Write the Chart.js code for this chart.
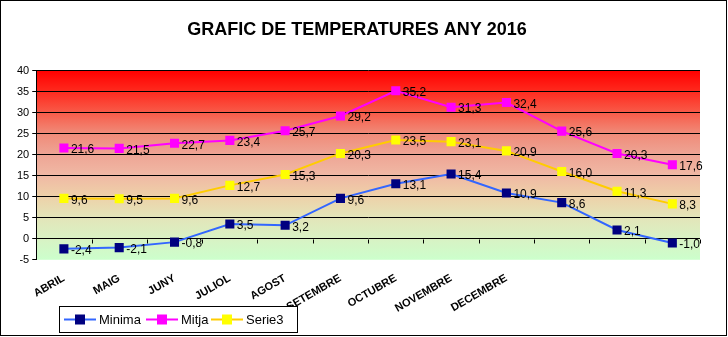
<!DOCTYPE html>
<html>
<head>
<meta charset="utf-8">
<script src="https://cdn.jsdelivr.net/npm/chart.js@4"></script>
<style>
  html, body { margin: 0; padding: 0; background: #fff; }
  #wrap { width: 728px; height: 337px; }
</style>
</head>
<body>
<div id="wrap"><canvas id="tempChart" width="728" height="337"></canvas></div>
<script>
// Monthly temperatures, 2016
const months = ['ABRIL', 'MAIG', 'JUNY', 'JULIOL', 'AGOST', 'SETEMBRE', 'OCTUBRE', 'NOVEMBRE', 'DECEMBRE', '', '', ''];
const minima = [-2.4, -2.1, -0.8, 3.5, 3.2, 9.6, 13.1, 15.4, 10.9, 8.6, 2.1, -1.0];
const mitja = [21.6, 21.5, 22.7, 23.4, 25.7, 29.2, 35.2, 31.3, 32.4, 25.6, 20.3, 17.6];
const serie3 = [9.6, 9.5, 9.6, 12.7, 15.3, 20.3, 23.5, 23.1, 20.9, 16.0, 11.3, 8.3];
const yTicks = [-5, 0, 5, 10, 15, 20, 25, 30, 35, 40];

const fmt = v => v.toFixed(1).replace('.', ',');

// warm-to-cool background behind the plot
const plotBackground = {
  id: 'plotBackground',
  beforeDraw(chart) {
    const { ctx, chartArea: a } = chart;
    const g = ctx.createLinearGradient(0, a.top, 0, a.bottom);
    g.addColorStop(0, '#ff0000');
    g.addColorStop(0.11, '#ff2a1e');
    g.addColorStop(0.22, '#f85a48');
    g.addColorStop(0.33, '#f08a78');
    g.addColorStop(0.44, '#eea494');
    g.addColorStop(0.55, '#f0b8a4');
    g.addColorStop(0.66, '#eed0a8');
    g.addColorStop(0.77, '#e4e4b8');
    g.addColorStop(0.89, '#d8f2c4');
    g.addColorStop(1, '#ccffcc');
    ctx.save();
    ctx.fillStyle = g;
    ctx.fillRect(a.left, a.top, a.right - a.left, a.bottom - a.top);
    ctx.restore();
  },
  afterDraw(chart) {
    const { ctx, width, height } = chart;
    ctx.save();
    ctx.strokeStyle = '#000';
    ctx.lineWidth = 1;
    ctx.strokeRect(0.5, 0.5, width - 2, height - 2);
    // small ticks on the zero line between categories
    const x = chart.scales.x, y = chart.scales.y;
    const y0 = Math.round(y.getPixelForValue(0)) + 0.5;
    ctx.beginPath();
    for (let i = 0; i <= months.length; i++) {
      const px = Math.round(x.getPixelForValue(i - 0.5)) + 0.5;
      ctx.moveTo(px, y0);
      ctx.lineTo(px, y0 + 4);
    }
    ctx.stroke();
    ctx.restore();
  }
};

// value labels to the right of each marker
const valueLabels = {
  id: 'valueLabels',
  afterDatasetsDraw(chart) {
    const ctx = chart.ctx;
    ctx.save();
    ctx.font = '12px "Liberation Sans", Arial, sans-serif';
    ctx.fillStyle = '#000';
    ctx.textAlign = 'left';
    ctx.textBaseline = 'middle';
    chart.data.datasets.forEach((ds, i) => {
      chart.getDatasetMeta(i).data.forEach((pt, j) => {
        ctx.fillText(fmt(ds.data[j]), pt.x + 7, pt.y + 2);
      });
    });
    ctx.restore();
  }
};

// boxed legend at the bottom left
const boxLegend = {
  id: 'boxLegend',
  afterDraw(chart) {
    const ctx = chart.ctx;
    const bx = 59.5, by = 306.5, bw = 238, bh = 26;
    ctx.save();
    ctx.fillStyle = '#fff';
    ctx.fillRect(bx, by, bw, bh);
    ctx.strokeStyle = '#000';
    ctx.lineWidth = 1;
    ctx.strokeRect(bx, by, bw, bh);
    ctx.font = '13px "Liberation Sans", Arial, sans-serif';
    ctx.textBaseline = 'middle';
    const starts = [64, 146, 211];
    const cy = by + bh / 2;
    chart.data.datasets.forEach((ds, i) => {
      const x0 = starts[i];
      ctx.strokeStyle = ds.borderColor;
      ctx.lineWidth = 2;
      ctx.beginPath();
      ctx.moveTo(x0, cy);
      ctx.lineTo(x0 + 32, cy);
      ctx.stroke();
      ctx.fillStyle = ds.pointBackgroundColor;
      ctx.fillRect(x0 + 11, cy - 5, 10, 10);
      ctx.fillStyle = '#000';
      ctx.fillText(ds.label, x0 + 35, cy + 1);
    });
    ctx.restore();
  }
};

const series = (label, data, line, marker) => ({
  label, data,
  borderColor: line,
  borderWidth: 2,
  pointStyle: 'rect',
  pointRadius: 5,
  pointBackgroundColor: marker,
  pointBorderColor: marker,
  tension: 0
});

new Chart(document.getElementById('tempChart'), {
  type: 'line',
  data: {
    labels: months,
    datasets: [
      series('Minima', minima, '#3366ff', '#000080'),
      series('Mitja', mitja, '#ff00ff', '#ff00ff'),
      series('Serie3', serie3, '#ffcc00', '#ffff00')
    ]
  },
  options: {
    responsive: false,
    animation: false,
    layout: { padding: { top: 0, right: 28, bottom: 18, left: 14 } },
    plugins: {
      legend: { display: false },
      tooltip: { enabled: false },
      title: {
        display: true,
        text: 'GRAFIC DE TEMPERATURES ANY 2016',
        color: '#000',
        font: { family: '"Liberation Sans", Arial, sans-serif', size: 18, weight: 'bold' },
        padding: { top: 19, bottom: 30 }
      }
    },
    scales: {
      x: {
        offset: true,
        border: { display: false },
        grid: { display: false },
        ticks: {
          autoSkip: false,
          maxRotation: 30,
          minRotation: 30,
          color: '#000',
          padding: 4,
          font: { family: '"Liberation Sans", Arial, sans-serif', size: 11, weight: 'bold' }
        }
      },
      y: {
        min: -5,
        max: 40,
        afterBuildTicks(scale) { scale.ticks = yTicks.map(v => ({ value: v })); },
        border: { display: true, color: '#000', width: 1 },
        grid: {
          color: c => (c.tick && c.tick.value === -5 ? 'rgba(0,0,0,0)' : '#000'),
          tickColor: '#000',
          tickLength: 4,
          lineWidth: 1
        },
        ticks: {
          color: '#000',
          padding: 3,
          font: { family: '"Liberation Sans", Arial, sans-serif', size: 11 }
        }
      }
    }
  },
  plugins: [plotBackground, valueLabels, boxLegend]
});
</script>
</body>
</html>
